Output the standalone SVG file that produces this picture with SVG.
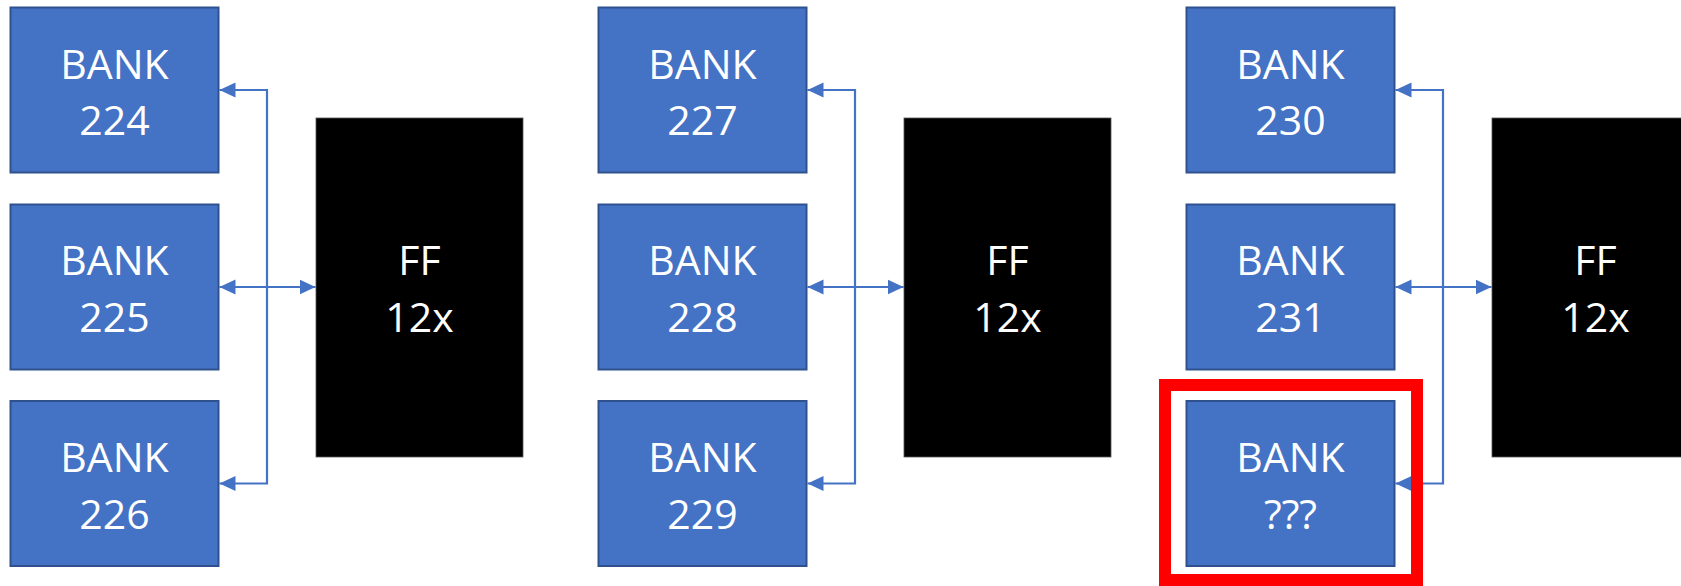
<svg xmlns="http://www.w3.org/2000/svg" width="1681" height="586" viewBox="0 0 1681 586">
<style>
.bank{fill:#4472C4;stroke:#2F528F;stroke-width:2}
.ff{fill:#000;stroke:#555;stroke-width:0.8}
.t{font-family:"Open Sans","Noto Sans",sans-serif;font-size:41px;fill:#fff;text-anchor:middle}
.c{fill:none;stroke:#4472C4;stroke-width:2.2}
</style>
<defs>
<marker id="ah" markerUnits="userSpaceOnUse" markerWidth="16" markerHeight="16" viewBox="0 0 16 16" refX="16" refY="8" orient="auto-start-reverse">
<path d="M0,0.5 L16,8 L0,15.5 z" fill="#4472C4"/>
</marker>
</defs>
<rect width="1681" height="586" fill="#fff"/>
<g id="connectors">
<path class="c" d="M267,287 V90 H219.5" marker-end="url(#ah)"/>
<path class="c" d="M267,287 V483.5 H219.5" marker-end="url(#ah)"/>
<path class="c" d="M219.5,287 H315.5" marker-start="url(#ah)" marker-end="url(#ah)"/>
<path class="c" d="M855,287 V90 H807.5" marker-end="url(#ah)"/>
<path class="c" d="M855,287 V483.5 H807.5" marker-end="url(#ah)"/>
<path class="c" d="M807.5,287 H903.5" marker-start="url(#ah)" marker-end="url(#ah)"/>
<path class="c" d="M1443,287 V90 H1395.5" marker-end="url(#ah)"/>
<path class="c" d="M1443,287 V483.5 H1395.5" marker-end="url(#ah)"/>
<path class="c" d="M1395.5,287 H1491.5" marker-start="url(#ah)" marker-end="url(#ah)"/>
</g>
<g id="bank224"><rect class="bank" x="10.5" y="7.5" width="208" height="165"/><text class="t" x="114.5" y="78.5">BANK</text><text class="t" x="114.5" y="135">224</text></g>
<g id="bank225"><rect class="bank" x="10.5" y="204.5" width="208" height="165"/><text class="t" x="114.5" y="275">BANK</text><text class="t" x="114.5" y="332">225</text></g>
<g id="bank226"><rect class="bank" x="10.5" y="401" width="208" height="165"/><text class="t" x="114.5" y="472">BANK</text><text class="t" x="114.5" y="529">226</text></g>
<g id="ff1"><rect class="ff" x="316" y="118" width="207" height="339"/><text class="t" x="419.5" y="275">FF</text><text class="t" x="419.5" y="332">12x</text></g>
<g id="bank227"><rect class="bank" x="598.5" y="7.5" width="208" height="165"/><text class="t" x="702.5" y="78.5">BANK</text><text class="t" x="702.5" y="135">227</text></g>
<g id="bank228"><rect class="bank" x="598.5" y="204.5" width="208" height="165"/><text class="t" x="702.5" y="275">BANK</text><text class="t" x="702.5" y="332">228</text></g>
<g id="bank229"><rect class="bank" x="598.5" y="401" width="208" height="165"/><text class="t" x="702.5" y="472">BANK</text><text class="t" x="702.5" y="529">229</text></g>
<g id="ff2"><rect class="ff" x="904" y="118" width="207" height="339"/><text class="t" x="1007.5" y="275">FF</text><text class="t" x="1007.5" y="332">12x</text></g>
<g id="bank230"><rect class="bank" x="1186.5" y="7.5" width="208" height="165"/><text class="t" x="1290.5" y="78.5">BANK</text><text class="t" x="1290.5" y="135">230</text></g>
<g id="bank231"><rect class="bank" x="1186.5" y="204.5" width="208" height="165"/><text class="t" x="1290.5" y="275">BANK</text><text class="t" x="1290.5" y="332">231</text></g>
<g id="bankUnknown"><rect class="bank" x="1186.5" y="401" width="208" height="165"/><text class="t" x="1290.5" y="472">BANK</text><text class="t" x="1290.5" y="529">???</text></g>
<g id="ff3"><rect class="ff" x="1492" y="118" width="210" height="339"/><text class="t" x="1595.5" y="275">FF</text><text class="t" x="1595.5" y="332">12x</text></g>
<g id="highlight"><rect x="1165" y="385" width="252" height="195" fill="none" stroke="#FF0000" stroke-width="12"/></g>
</svg>
